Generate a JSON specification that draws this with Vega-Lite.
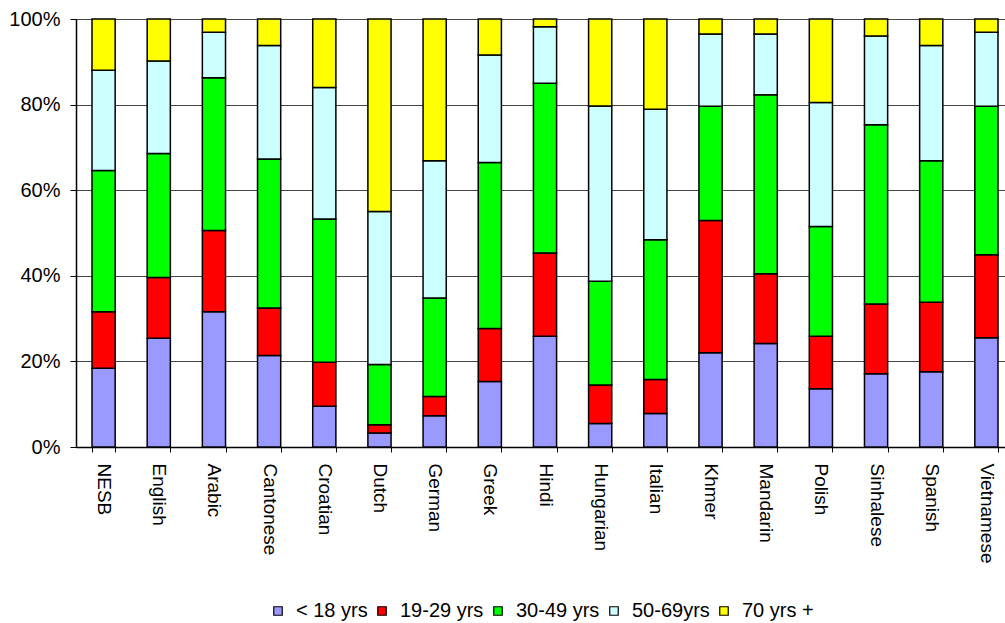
{
  "$schema": "https://vega.github.io/schema/vega-lite/v6.json",
  "autosize": {"type": "none"},
  "padding": {"left": 76, "top": 19, "right": 0, "bottom": 176},
  "width": 938,
  "height": 428,
  "background": "white",
  "config": {
    "font": "Liberation Sans",
    "view": {"stroke": null},
    "axis": {"labelFont": "Liberation Sans", "labelColor": "#000", "domainColor": "#000", "tickColor": "#000"}
  },
  "data": {
    "values": [
      {"lang": "NESB", "age": "< 18 yrs", "k": 1, "pct": 18.4},
      {"lang": "NESB", "age": "19-29 yrs", "k": 2, "pct": 13.2},
      {"lang": "NESB", "age": "30-49 yrs", "k": 3, "pct": 33.0},
      {"lang": "NESB", "age": "50-69yrs", "k": 4, "pct": 23.4},
      {"lang": "NESB", "age": "70 yrs +", "k": 5, "pct": 12.0},
      {"lang": "English", "age": "< 18 yrs", "k": 1, "pct": 25.4},
      {"lang": "English", "age": "19-29 yrs", "k": 2, "pct": 14.2},
      {"lang": "English", "age": "30-49 yrs", "k": 3, "pct": 29.0},
      {"lang": "English", "age": "50-69yrs", "k": 4, "pct": 21.6},
      {"lang": "English", "age": "70 yrs +", "k": 5, "pct": 9.8},
      {"lang": "Arabic", "age": "< 18 yrs", "k": 1, "pct": 31.6},
      {"lang": "Arabic", "age": "19-29 yrs", "k": 2, "pct": 19.0},
      {"lang": "Arabic", "age": "30-49 yrs", "k": 3, "pct": 35.7},
      {"lang": "Arabic", "age": "50-69yrs", "k": 4, "pct": 10.6},
      {"lang": "Arabic", "age": "70 yrs +", "k": 5, "pct": 3.1},
      {"lang": "Cantonese", "age": "< 18 yrs", "k": 1, "pct": 21.4},
      {"lang": "Cantonese", "age": "19-29 yrs", "k": 2, "pct": 11.1},
      {"lang": "Cantonese", "age": "30-49 yrs", "k": 3, "pct": 34.8},
      {"lang": "Cantonese", "age": "50-69yrs", "k": 4, "pct": 26.5},
      {"lang": "Cantonese", "age": "70 yrs +", "k": 5, "pct": 6.2},
      {"lang": "Croatian", "age": "< 18 yrs", "k": 1, "pct": 9.5},
      {"lang": "Croatian", "age": "19-29 yrs", "k": 2, "pct": 10.3},
      {"lang": "Croatian", "age": "30-49 yrs", "k": 3, "pct": 33.5},
      {"lang": "Croatian", "age": "50-69yrs", "k": 4, "pct": 30.7},
      {"lang": "Croatian", "age": "70 yrs +", "k": 5, "pct": 16.0},
      {"lang": "Dutch", "age": "< 18 yrs", "k": 1, "pct": 3.3},
      {"lang": "Dutch", "age": "19-29 yrs", "k": 2, "pct": 1.9},
      {"lang": "Dutch", "age": "30-49 yrs", "k": 3, "pct": 14.1},
      {"lang": "Dutch", "age": "50-69yrs", "k": 4, "pct": 35.7},
      {"lang": "Dutch", "age": "70 yrs +", "k": 5, "pct": 45.0},
      {"lang": "German", "age": "< 18 yrs", "k": 1, "pct": 7.3},
      {"lang": "German", "age": "19-29 yrs", "k": 2, "pct": 4.5},
      {"lang": "German", "age": "30-49 yrs", "k": 3, "pct": 23.0},
      {"lang": "German", "age": "50-69yrs", "k": 4, "pct": 32.1},
      {"lang": "German", "age": "70 yrs +", "k": 5, "pct": 33.1},
      {"lang": "Greek", "age": "< 18 yrs", "k": 1, "pct": 15.3},
      {"lang": "Greek", "age": "19-29 yrs", "k": 2, "pct": 12.4},
      {"lang": "Greek", "age": "30-49 yrs", "k": 3, "pct": 38.8},
      {"lang": "Greek", "age": "50-69yrs", "k": 4, "pct": 25.1},
      {"lang": "Greek", "age": "70 yrs +", "k": 5, "pct": 8.4},
      {"lang": "Hindi", "age": "< 18 yrs", "k": 1, "pct": 25.9},
      {"lang": "Hindi", "age": "19-29 yrs", "k": 2, "pct": 19.4},
      {"lang": "Hindi", "age": "30-49 yrs", "k": 3, "pct": 39.7},
      {"lang": "Hindi", "age": "50-69yrs", "k": 4, "pct": 13.2},
      {"lang": "Hindi", "age": "70 yrs +", "k": 5, "pct": 1.8},
      {"lang": "Hungarian", "age": "< 18 yrs", "k": 1, "pct": 5.5},
      {"lang": "Hungarian", "age": "19-29 yrs", "k": 2, "pct": 9.0},
      {"lang": "Hungarian", "age": "30-49 yrs", "k": 3, "pct": 24.2},
      {"lang": "Hungarian", "age": "50-69yrs", "k": 4, "pct": 41.0},
      {"lang": "Hungarian", "age": "70 yrs +", "k": 5, "pct": 20.3},
      {"lang": "Italian", "age": "< 18 yrs", "k": 1, "pct": 7.8},
      {"lang": "Italian", "age": "19-29 yrs", "k": 2, "pct": 8.0},
      {"lang": "Italian", "age": "30-49 yrs", "k": 3, "pct": 32.6},
      {"lang": "Italian", "age": "50-69yrs", "k": 4, "pct": 30.5},
      {"lang": "Italian", "age": "70 yrs +", "k": 5, "pct": 21.1},
      {"lang": "Khmer", "age": "< 18 yrs", "k": 1, "pct": 22.0},
      {"lang": "Khmer", "age": "19-29 yrs", "k": 2, "pct": 30.9},
      {"lang": "Khmer", "age": "30-49 yrs", "k": 3, "pct": 26.7},
      {"lang": "Khmer", "age": "50-69yrs", "k": 4, "pct": 16.9},
      {"lang": "Khmer", "age": "70 yrs +", "k": 5, "pct": 3.5},
      {"lang": "Mandarin", "age": "< 18 yrs", "k": 1, "pct": 24.2},
      {"lang": "Mandarin", "age": "19-29 yrs", "k": 2, "pct": 16.3},
      {"lang": "Mandarin", "age": "30-49 yrs", "k": 3, "pct": 41.8},
      {"lang": "Mandarin", "age": "50-69yrs", "k": 4, "pct": 14.2},
      {"lang": "Mandarin", "age": "70 yrs +", "k": 5, "pct": 3.5},
      {"lang": "Polish", "age": "< 18 yrs", "k": 1, "pct": 13.6},
      {"lang": "Polish", "age": "19-29 yrs", "k": 2, "pct": 12.3},
      {"lang": "Polish", "age": "30-49 yrs", "k": 3, "pct": 25.6},
      {"lang": "Polish", "age": "50-69yrs", "k": 4, "pct": 29.0},
      {"lang": "Polish", "age": "70 yrs +", "k": 5, "pct": 19.5},
      {"lang": "Sinhalese", "age": "< 18 yrs", "k": 1, "pct": 17.1},
      {"lang": "Sinhalese", "age": "19-29 yrs", "k": 2, "pct": 16.3},
      {"lang": "Sinhalese", "age": "30-49 yrs", "k": 3, "pct": 41.9},
      {"lang": "Sinhalese", "age": "50-69yrs", "k": 4, "pct": 20.7},
      {"lang": "Sinhalese", "age": "70 yrs +", "k": 5, "pct": 4.0},
      {"lang": "Spanish", "age": "< 18 yrs", "k": 1, "pct": 17.6},
      {"lang": "Spanish", "age": "19-29 yrs", "k": 2, "pct": 16.2},
      {"lang": "Spanish", "age": "30-49 yrs", "k": 3, "pct": 33.1},
      {"lang": "Spanish", "age": "50-69yrs", "k": 4, "pct": 26.9},
      {"lang": "Spanish", "age": "70 yrs +", "k": 5, "pct": 6.2},
      {"lang": "Vietnamese", "age": "< 18 yrs", "k": 1, "pct": 25.5},
      {"lang": "Vietnamese", "age": "19-29 yrs", "k": 2, "pct": 19.4},
      {"lang": "Vietnamese", "age": "30-49 yrs", "k": 3, "pct": 34.7},
      {"lang": "Vietnamese", "age": "50-69yrs", "k": 4, "pct": 17.3},
      {"lang": "Vietnamese", "age": "70 yrs +", "k": 5, "pct": 3.1}
    ]
  },
  "mark": {"type": "bar", "stroke": "#000", "strokeWidth": 1.5},
  "encoding": {
    "x": {
      "field": "lang",
      "type": "nominal",
      "sort": null,
      "scale": {"paddingInner": 0.58, "paddingOuter": 0.29},
      "axis": {
        "title": null,
        "labelAngle": 90,
        "labelAlign": "left",
        "labelBaseline": "middle",
        "labelFontSize": 19,
        "labelPadding": 11,
        "tickBand": "extent",
        "tickSize": 5,
        "domainWidth": 1.5,
        "grid": false
      }
    },
    "y": {
      "field": "pct",
      "type": "quantitative",
      "stack": "normalize",
      "scale": {"domain": [0, 1], "nice": false},
      "axis": {
        "title": null,
        "values": [0, 0.2, 0.4, 0.6, 0.8, 1],
        "format": ".0%",
        "labelFontSize": 20,
        "labelPadding": 10,
        "tickSize": 6,
        "domainWidth": 1.5,
        "grid": true,
        "gridColor": "#444",
        "gridWidth": 1.2
      }
    },
    "order": {"field": "k", "type": "quantitative", "sort": "ascending"},
    "color": {
      "field": "age",
      "type": "nominal",
      "sort": ["< 18 yrs", "19-29 yrs", "30-49 yrs", "50-69yrs", "70 yrs +"],
      "scale": {
        "domain": ["< 18 yrs", "19-29 yrs", "30-49 yrs", "50-69yrs", "70 yrs +"],
        "range": ["#9999FF", "#FF0000", "#00FF00", "#CCFFFF", "#FFFF00"]
      },
      "legend": {
        "title": null,
        "orient": "none",
        "direction": "horizontal",
        "legendX": 192,
        "legendY": 582,
        "symbolType": "square",
        "symbolSize": 72,
        "symbolStrokeColor": "#000",
        "symbolStrokeWidth": 1.2,
        "labelFontSize": 20,
        "labelFont": "Liberation Sans",
        "labelColor": "#000",
        "labelOffset": 8,
        "columnPadding": 4
      }
    }
  }
}
